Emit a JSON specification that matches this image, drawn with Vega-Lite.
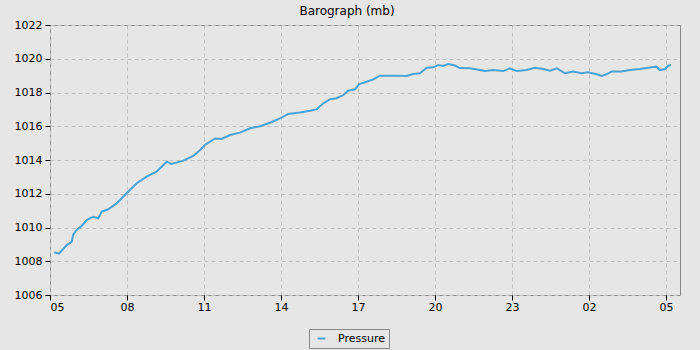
{
  "$schema": "https://vega.github.io/schema/vega-lite/v6.json",
  "width": 630,
  "height": 270,
  "autosize": {"type": "none"},
  "padding": {"left": 50, "top": 25, "right": 20, "bottom": 55},
  "background": "#e6e6e6",
  "title": {"text": "Barograph (mb)", "anchor": "middle", "frame": "bounds", "font": "DejaVu Sans", "fontSize": 12, "fontWeight": "normal", "color": "#000", "offset": 1},
  "config": {
    "view": {"stroke": "#888888", "strokeWidth": 1, "fill": "#e6e6e6"},
    "axis": {"labelFont": "DejaVu Sans", "labelFontSize": 11, "labelColor": "#000", "tickColor": "#000", "domain": false, "gridColor": "#c0c0c0", "gridDash": [4, 3], "gridWidth": 1}
  },
  "data": {"values": [
    {"t": "2024-01-01T05:10:00Z", "p": 1008.53, "s": "Pressure"},
    {"t": "2024-01-01T05:21:00Z", "p": 1008.45, "s": "Pressure"},
    {"t": "2024-01-01T05:31:00Z", "p": 1008.73, "s": "Pressure"},
    {"t": "2024-01-01T05:39:00Z", "p": 1008.96, "s": "Pressure"},
    {"t": "2024-01-01T05:51:00Z", "p": 1009.16, "s": "Pressure"},
    {"t": "2024-01-01T05:54:00Z", "p": 1009.56, "s": "Pressure"},
    {"t": "2024-01-01T06:02:00Z", "p": 1009.85, "s": "Pressure"},
    {"t": "2024-01-01T06:14:00Z", "p": 1010.09, "s": "Pressure"},
    {"t": "2024-01-01T06:26:00Z", "p": 1010.44, "s": "Pressure"},
    {"t": "2024-01-01T06:41:00Z", "p": 1010.64, "s": "Pressure"},
    {"t": "2024-01-01T06:53:00Z", "p": 1010.55, "s": "Pressure"},
    {"t": "2024-01-01T07:01:00Z", "p": 1010.94, "s": "Pressure"},
    {"t": "2024-01-01T07:16:00Z", "p": 1011.08, "s": "Pressure"},
    {"t": "2024-01-01T07:36:00Z", "p": 1011.43, "s": "Pressure"},
    {"t": "2024-01-01T07:59:00Z", "p": 1012.03, "s": "Pressure"},
    {"t": "2024-01-01T08:23:00Z", "p": 1012.62, "s": "Pressure"},
    {"t": "2024-01-01T08:46:00Z", "p": 1013.01, "s": "Pressure"},
    {"t": "2024-01-01T09:09:00Z", "p": 1013.31, "s": "Pressure"},
    {"t": "2024-01-01T09:33:00Z", "p": 1013.9, "s": "Pressure"},
    {"t": "2024-01-01T09:44:00Z", "p": 1013.76, "s": "Pressure"},
    {"t": "2024-01-01T10:12:00Z", "p": 1013.96, "s": "Pressure"},
    {"t": "2024-01-01T10:35:00Z", "p": 1014.24, "s": "Pressure"},
    {"t": "2024-01-01T10:51:00Z", "p": 1014.59, "s": "Pressure"},
    {"t": "2024-01-01T11:02:00Z", "p": 1014.89, "s": "Pressure"},
    {"t": "2024-01-01T11:26:00Z", "p": 1015.28, "s": "Pressure"},
    {"t": "2024-01-01T11:41:00Z", "p": 1015.25, "s": "Pressure"},
    {"t": "2024-01-01T12:01:00Z", "p": 1015.48, "s": "Pressure"},
    {"t": "2024-01-01T12:24:00Z", "p": 1015.62, "s": "Pressure"},
    {"t": "2024-01-01T12:48:00Z", "p": 1015.88, "s": "Pressure"},
    {"t": "2024-01-01T13:11:00Z", "p": 1016.0, "s": "Pressure"},
    {"t": "2024-01-01T13:34:00Z", "p": 1016.21, "s": "Pressure"},
    {"t": "2024-01-01T13:58:00Z", "p": 1016.47, "s": "Pressure"},
    {"t": "2024-01-01T14:17:00Z", "p": 1016.73, "s": "Pressure"},
    {"t": "2024-01-01T14:44:00Z", "p": 1016.82, "s": "Pressure"},
    {"t": "2024-01-01T15:08:00Z", "p": 1016.92, "s": "Pressure"},
    {"t": "2024-01-01T15:23:00Z", "p": 1017.0, "s": "Pressure"},
    {"t": "2024-01-01T15:39:00Z", "p": 1017.36, "s": "Pressure"},
    {"t": "2024-01-01T15:55:00Z", "p": 1017.6, "s": "Pressure"},
    {"t": "2024-01-01T16:10:00Z", "p": 1017.66, "s": "Pressure"},
    {"t": "2024-01-01T16:26:00Z", "p": 1017.85, "s": "Pressure"},
    {"t": "2024-01-01T16:37:00Z", "p": 1018.11, "s": "Pressure"},
    {"t": "2024-01-01T16:53:00Z", "p": 1018.19, "s": "Pressure"},
    {"t": "2024-01-01T17:03:00Z", "p": 1018.5, "s": "Pressure"},
    {"t": "2024-01-01T17:20:00Z", "p": 1018.64, "s": "Pressure"},
    {"t": "2024-01-01T17:36:00Z", "p": 1018.78, "s": "Pressure"},
    {"t": "2024-01-01T17:51:00Z", "p": 1019.0, "s": "Pressure"},
    {"t": "2024-01-01T18:23:00Z", "p": 1019.0, "s": "Pressure"},
    {"t": "2024-01-01T18:54:00Z", "p": 1018.98, "s": "Pressure"},
    {"t": "2024-01-01T19:09:00Z", "p": 1019.1, "s": "Pressure"},
    {"t": "2024-01-01T19:25:00Z", "p": 1019.14, "s": "Pressure"},
    {"t": "2024-01-01T19:41:00Z", "p": 1019.47, "s": "Pressure"},
    {"t": "2024-01-01T19:56:00Z", "p": 1019.49, "s": "Pressure"},
    {"t": "2024-01-01T20:08:00Z", "p": 1019.63, "s": "Pressure"},
    {"t": "2024-01-01T20:19:00Z", "p": 1019.57, "s": "Pressure"},
    {"t": "2024-01-01T20:31:00Z", "p": 1019.69, "s": "Pressure"},
    {"t": "2024-01-01T20:47:00Z", "p": 1019.6, "s": "Pressure"},
    {"t": "2024-01-01T20:58:00Z", "p": 1019.45, "s": "Pressure"},
    {"t": "2024-01-01T21:22:00Z", "p": 1019.43, "s": "Pressure"},
    {"t": "2024-01-01T21:45:00Z", "p": 1019.33, "s": "Pressure"},
    {"t": "2024-01-01T21:57:00Z", "p": 1019.27, "s": "Pressure"},
    {"t": "2024-01-01T22:16:00Z", "p": 1019.33, "s": "Pressure"},
    {"t": "2024-01-01T22:40:00Z", "p": 1019.27, "s": "Pressure"},
    {"t": "2024-01-01T22:55:00Z", "p": 1019.43, "s": "Pressure"},
    {"t": "2024-01-01T23:11:00Z", "p": 1019.27, "s": "Pressure"},
    {"t": "2024-01-01T23:34:00Z", "p": 1019.33, "s": "Pressure"},
    {"t": "2024-01-01T23:54:00Z", "p": 1019.47, "s": "Pressure"},
    {"t": "2024-01-02T00:13:00Z", "p": 1019.39, "s": "Pressure"},
    {"t": "2024-01-02T00:29:00Z", "p": 1019.29, "s": "Pressure"},
    {"t": "2024-01-02T00:45:00Z", "p": 1019.43, "s": "Pressure"},
    {"t": "2024-01-02T01:04:00Z", "p": 1019.14, "s": "Pressure"},
    {"t": "2024-01-02T01:23:00Z", "p": 1019.24, "s": "Pressure"},
    {"t": "2024-01-02T01:43:00Z", "p": 1019.14, "s": "Pressure"},
    {"t": "2024-01-02T01:58:00Z", "p": 1019.2, "s": "Pressure"},
    {"t": "2024-01-02T02:18:00Z", "p": 1019.08, "s": "Pressure"},
    {"t": "2024-01-02T02:30:00Z", "p": 1018.98, "s": "Pressure"},
    {"t": "2024-01-02T02:41:00Z", "p": 1019.08, "s": "Pressure"},
    {"t": "2024-01-02T02:53:00Z", "p": 1019.24, "s": "Pressure"},
    {"t": "2024-01-02T03:16:00Z", "p": 1019.24, "s": "Pressure"},
    {"t": "2024-01-02T03:36:00Z", "p": 1019.33, "s": "Pressure"},
    {"t": "2024-01-02T03:59:00Z", "p": 1019.39, "s": "Pressure"},
    {"t": "2024-01-02T04:27:00Z", "p": 1019.49, "s": "Pressure"},
    {"t": "2024-01-02T04:38:00Z", "p": 1019.53, "s": "Pressure"},
    {"t": "2024-01-02T04:46:00Z", "p": 1019.33, "s": "Pressure"},
    {"t": "2024-01-02T04:58:00Z", "p": 1019.39, "s": "Pressure"},
    {"t": "2024-01-02T05:05:00Z", "p": 1019.59, "s": "Pressure"},
    {"t": "2024-01-02T05:12:00Z", "p": 1019.63, "s": "Pressure"}
  ]},
  "mark": {"type": "line", "strokeWidth": 2, "interpolate": "linear"},
  "encoding": {
    "x": {"field": "t", "type": "temporal", "title": null,
      "scale": {"type": "utc", "domain": [{"year": 2024, "month": 1, "date": 1, "hours": 5, "utc": true}, {"year": 2024, "month": 1, "date": 2, "hours": 5, "minutes": 33, "utc": true}]},
      "axis": {"format": "%H", "labelPadding": 1, "tickSize": 5, "grid": true,
        "values": [
          {"year": 2024, "month": 1, "date": 1, "hours": 5, "utc": true},
          {"year": 2024, "month": 1, "date": 1, "hours": 8, "utc": true},
          {"year": 2024, "month": 1, "date": 1, "hours": 11, "utc": true},
          {"year": 2024, "month": 1, "date": 1, "hours": 14, "utc": true},
          {"year": 2024, "month": 1, "date": 1, "hours": 17, "utc": true},
          {"year": 2024, "month": 1, "date": 1, "hours": 20, "utc": true},
          {"year": 2024, "month": 1, "date": 1, "hours": 23, "utc": true},
          {"year": 2024, "month": 1, "date": 2, "hours": 2, "utc": true},
          {"year": 2024, "month": 1, "date": 2, "hours": 5, "utc": true}
        ]}},
    "y": {"field": "p", "type": "quantitative", "title": null,
      "scale": {"domain": [1006, 1022], "nice": false, "zero": false},
      "axis": {"format": "d", "values": [1006, 1008, 1010, 1012, 1014, 1016, 1018, 1020, 1022], "labelPadding": 3, "tickSize": 5, "grid": true}},
    "color": {"field": "s", "type": "nominal", "scale": {"range": ["#4aa3d6"]},
      "legend": {"title": null, "orient": "none", "legendX": 259, "legendY": 304, "symbolType": "stroke", "symbolSize": 60, "symbolStrokeWidth": 2, "labelFont": "DejaVu Sans", "labelFontSize": 11, "labelColor": "#000", "strokeColor": "#888888", "padding": 4, "fillColor": "#e6e6e6", "labelOffset": 11, "symbolOffset": 3}}
  }
}
